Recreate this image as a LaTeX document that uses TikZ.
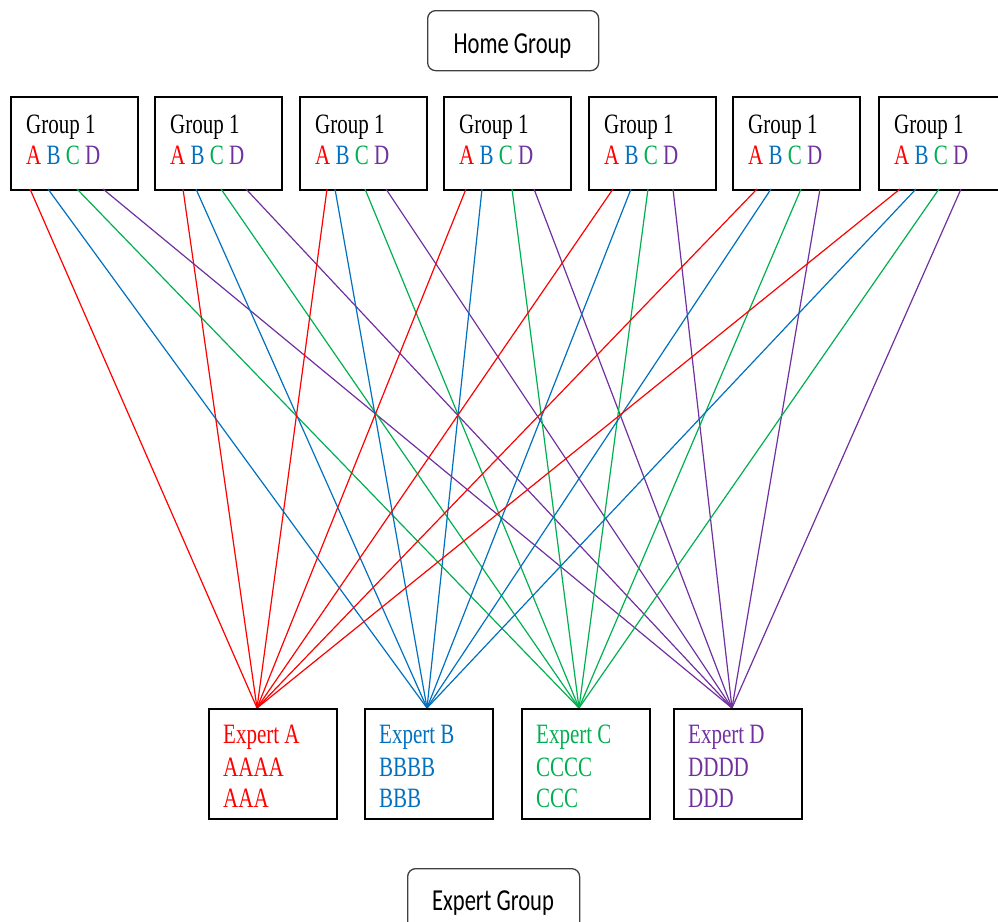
\documentclass[tikz,border=0pt]{standalone}
\usepackage{fontspec}
\newfontfamily\grpfont[FakeStretch=0.75]{Liberation Serif}
\newfontfamily\lblfont[FakeStretch=0.74]{Carlito}
\definecolor{cA}{RGB}{255,0,0}
\definecolor{cB}{RGB}{0,112,192}
\definecolor{cC}{RGB}{0,176,80}
\definecolor{cD}{RGB}{112,48,160}
\begin{document}
\begin{tikzpicture}[x=1pt,y=-1pt,
  grpbox/.style={draw=black, line width=2.2pt, minimum width=127, minimum height=93, inner sep=0pt},
  expbox/.style={draw=black, line width=2.2pt, minimum width=128, minimum height=110, inner sep=0pt},
  grptext/.style={inner sep=0pt, font=\grpfont\fontsize{28}{30}\selectfont},
  titlebox/.style={draw=black!75, line width=1.3pt, rounded corners=8pt, inner sep=0pt},
  titletext/.style={inner sep=0pt, font=\lblfont\fontsize{30.5}{32}\selectfont},
  lnA/.style={cA, line width=1.2pt},
  lnB/.style={cB, line width=1.2pt},
  lnC/.style={cC, line width=1.2pt},
  lnD/.style={cD, line width=1.2pt}]
\useasboundingbox (0,0) rectangle (998,921);
% Home group
\node[titlebox, minimum width=171, minimum height=60, anchor=north west] (home) at (427,10) {};
\node[titletext, anchor=base] (homet) at (512.5,53) {Home Group};
% Expert group
\node[titlebox, minimum width=172, minimum height=80, anchor=north west] (expg) at (407,868) {};
\node[titletext, anchor=base] (expgt) at (493,910) {Expert Group};
% convergence points
\coordinate (inA) at (257,708);
\coordinate (inB) at (427,708);
\coordinate (inC) at (579,708);
\coordinate (inD) at (732,708);
% group boxes
\foreach \i/\L/\ra/\rb/\rc/\rd in {1/10/30/48/77/103, 2/154/183/196/221/246, 3/299/327/335/365/386, 4/443/466/482/512/534, 5/588/613/631/648/673, 6/732/757/771/801/820, 7/878/900/916/939/961} {
  \node[grpbox, anchor=north west] (g\i) at (\L,96) {};
  \node[grptext, anchor=base west] (g\i t) at (\L+16,133) {Group 1};
  \node[grptext, anchor=base west] (g\i l) at (\L+16,164) {\textcolor{cA}{A} \textcolor{cB}{B} \textcolor{cC}{C} \textcolor{cD}{D}};
  \coordinate (g\i a) at (\ra,189);
  \coordinate (g\i b) at (\rb,189);
  \coordinate (g\i c) at (\rc,189);
  \coordinate (g\i d) at (\rd,189);
  \draw[lnA] (g\i a) -- (inA);
  \draw[lnB] (g\i b) -- (inB);
  \draw[lnC] (g\i c) -- (inC);
  \draw[lnD] (g\i d) -- (inD);
}
% expert boxes
\foreach \n/\L/\c in {A/208/cA, B/364/cB, C/521/cC, D/673/cD} {
  \node[expbox, anchor=north west] (e\n) at (\L,708) {};
  \node[grptext, text=\c, anchor=base west] (e\n 1) at (\L+15,743) {Expert \n};
  \node[grptext, text=\c, anchor=base west] (e\n 2) at (\L+15,776) {\n\n\n\n};
  \node[grptext, text=\c, anchor=base west] (e\n 3) at (\L+15,807) {\n\n\n};
}
\end{tikzpicture}
\end{document}
